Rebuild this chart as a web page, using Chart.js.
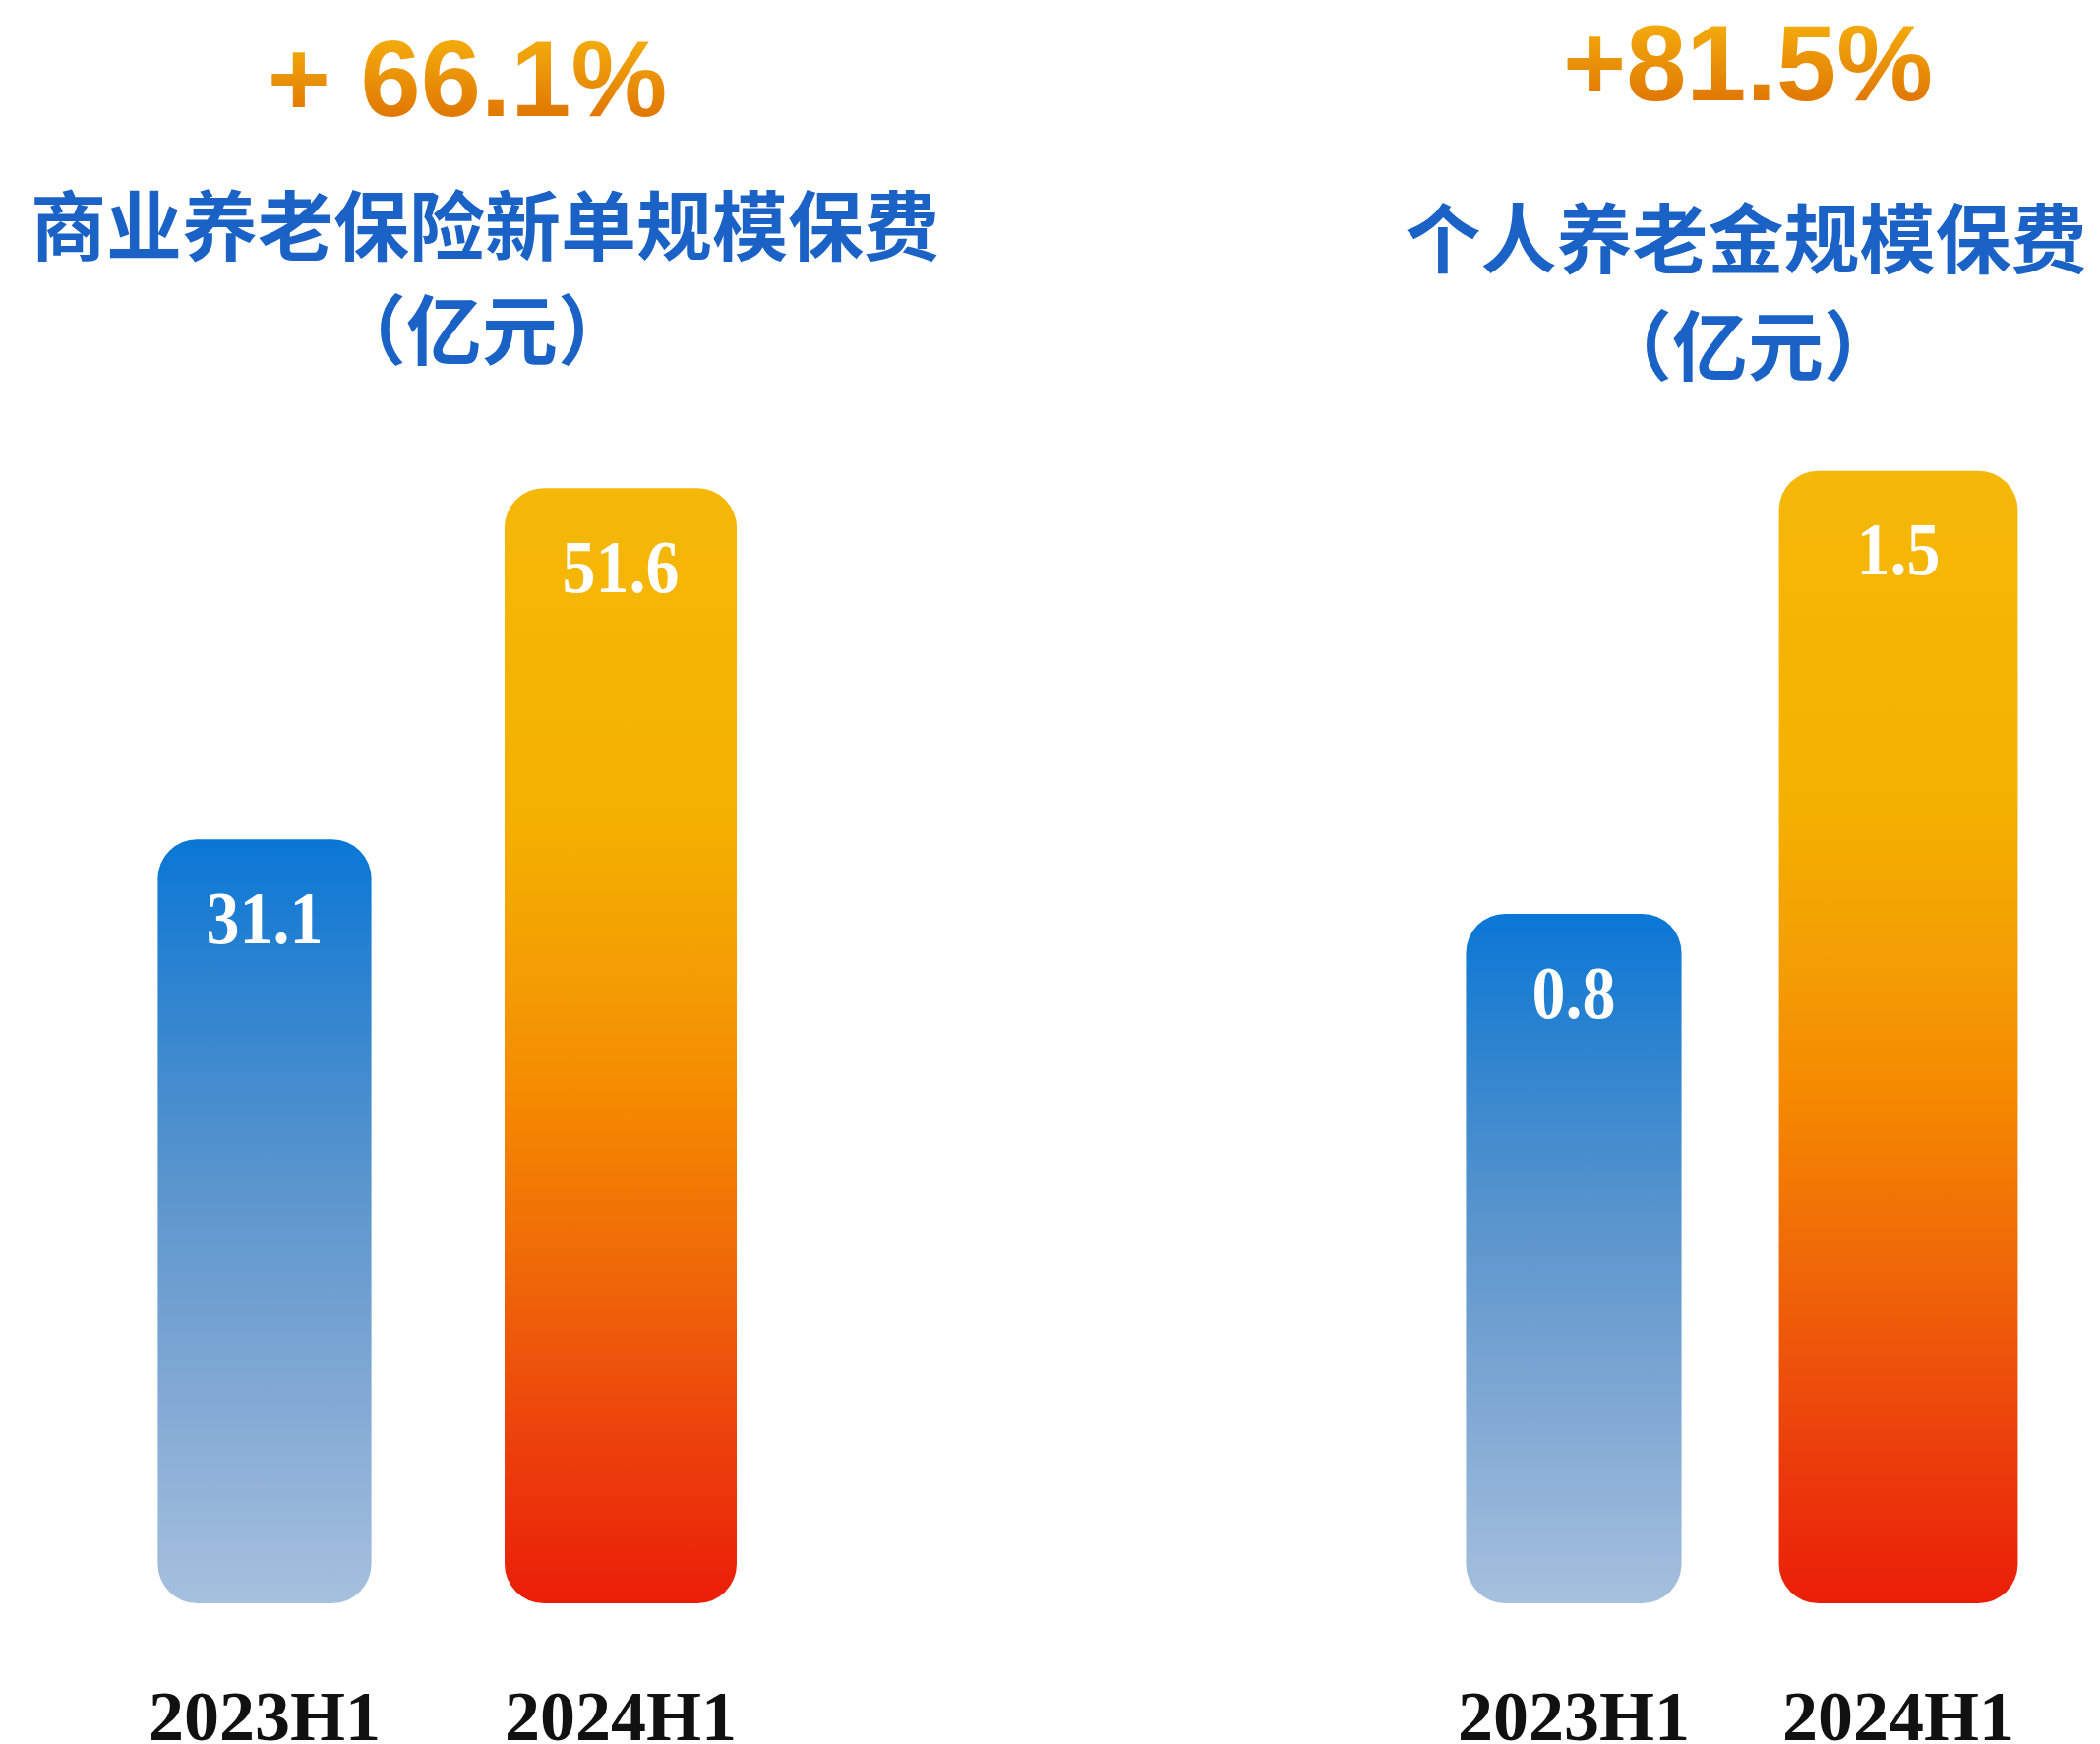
<!DOCTYPE html>
<html lang="zh-CN">
<head>
  <meta charset="UTF-8">
  <title>商业养老保险与个人养老金规模保费</title>
  <script src="https://cdn.jsdelivr.net/npm/chart.js"></script>
  <style>
    html, body { margin: 0; padding: 0; background: #fff; width: 2135px; height: 1773px; overflow: hidden; }
    .pct, .ttl { position: absolute; white-space: nowrap; line-height: 1; transform: translateX(-50%); }
    .pct {
      font-family: "Liberation Sans", Arial, sans-serif; font-weight: bold; font-size: 110px;
      background: linear-gradient(#f7b60e, #dc6c00);
      -webkit-background-clip: text; background-clip: text; color: transparent;
    }
    .ttl { font-family: "Noto Sans CJK SC", sans-serif; font-weight: bold; font-size: 77px; color: #1a62c6; }
    .box { position: absolute; top: 340px; height: 1446px; }
  </style>
</head>
<body>
  <div class="pct" style="left:475px; top:25px;" id="g0"></div>
  <div class="ttl" style="left:493px; top:187px;" id="t0"></div>
  <div class="ttl" style="left:490px; top:293px;">（亿元）</div>
  <div class="pct" style="left:1777px; top:9px;" id="g1"></div>
  <div class="ttl" style="left:1775px; top:200px;" id="t1"></div>
  <div class="ttl" style="left:1777px; top:309px;">（亿元）</div>

  <div class="box" style="left:88px; width:724px;"><canvas id="c0"></canvas></div>
  <div class="box" style="left:1435px; width:660px;"><canvas id="c1"></canvas></div>
  <script>
    const periods = ['2023H1', '2024H1'];
    const commercialPremium = [31.1, 51.6];   // 商业养老保险新单规模保费
    const personalPension = [0.8, 1.5];       // 个人养老金规模保费
    const titles = ['商业养老保险新单规模保费', '个人养老金规模保费'];
    const growth = ['+ 66.1%', '+81.5%'];

    document.getElementById('g0').textContent = growth[0];
    document.getElementById('g1').textContent = growth[1];
    document.getElementById('t0').textContent = titles[0];
    document.getElementById('t1').textContent = titles[1];

    const blueStops = [[0, '#0a77d6'], [0.2, '#2f84cf'], [0.45, '#5a95cd'], [0.7, '#7ea7d3'], [1, '#a6c0de']];
    const orangeStops = [[0, '#f5b808'], [0.3, '#f4b000'], [0.45, '#f39b04'], [0.55, '#f58900'],
                         [0.7, '#ef6808'], [0.85, '#ec420c'], [1, '#ea1e08']];

    function barFill(stops) {
      return (ctx) => {
        const chart = ctx.chart;
        if (!chart.chartArea || ctx.raw == null) return stops[0][1];
        const y = chart.scales.y;
        const top = y.getPixelForValue(ctx.raw);
        const bottom = y.getPixelForValue(ctx.dataset.base);
        const g = chart.ctx.createLinearGradient(0, top, 0, bottom);
        stops.forEach(([o, c]) => g.addColorStop(o, c));
        return g;
      };
    }

    // white numbers inside top of each bar (slightly stretched like the original)
    const valueLabels = {
      id: 'valueLabels',
      afterDatasetsDraw(chart) {
        const c = chart.ctx;
        chart.data.datasets.forEach((ds, i) => {
          chart.getDatasetMeta(i).data.forEach((bar, j) => {
            if (ds.data[j] == null) return;
            c.save();
            c.fillStyle = '#ffffff';
            c.font = 'bold 68px "Liberation Serif", "Times New Roman", serif';
            c.textAlign = 'center';
            c.textBaseline = 'middle';
            c.translate(bar.x, bar.y + 86);
            c.scale(1, 1.12);
            c.fillText(ds.data[j].toFixed(1), 0, 0);
            c.restore();
          });
        });
      }
    };

    function makeChart(id, values, yMin, yMax, widths) {
      const ds = (k, stops) => ({
        data: values.map((v, j) => (j === k ? v : null)),
        base: yMin,
        backgroundColor: barFill(stops),
        borderRadius: 40,
        borderSkipped: false,
        barPercentage: widths[k],
        categoryPercentage: 1,
        grouped: false
      });
      return new Chart(document.getElementById(id), {
        type: 'bar',
        data: { labels: periods, datasets: [ds(0, blueStops), ds(1, orangeStops)] },
        options: {
          responsive: true,
          maintainAspectRatio: false,
          animation: false,
          layout: { padding: { top: 10, left: 0, right: 0, bottom: 0 } },
          plugins: { legend: { display: false }, tooltip: { enabled: false } },
          scales: {
            x: {
              grid: { display: false, drawTicks: true, tickLength: 84 },
              border: { display: false },
              ticks: {
                padding: 0,
                color: '#111',
                font: { family: '"Liberation Serif", "Times New Roman", serif', weight: 'bold', size: 72, lineHeight: 1 }
              }
            },
            y: { display: false, min: yMin, max: yMax }
          }
        },
        plugins: [valueLabels]
      });
    }

    makeChart('c0', commercialPremium, -13.5, 60, [0.6, 0.652]);
    makeChart('c1', personalPension, -0.29, 1.7, [0.664, 0.736]);
  </script>
</body>
</html>
